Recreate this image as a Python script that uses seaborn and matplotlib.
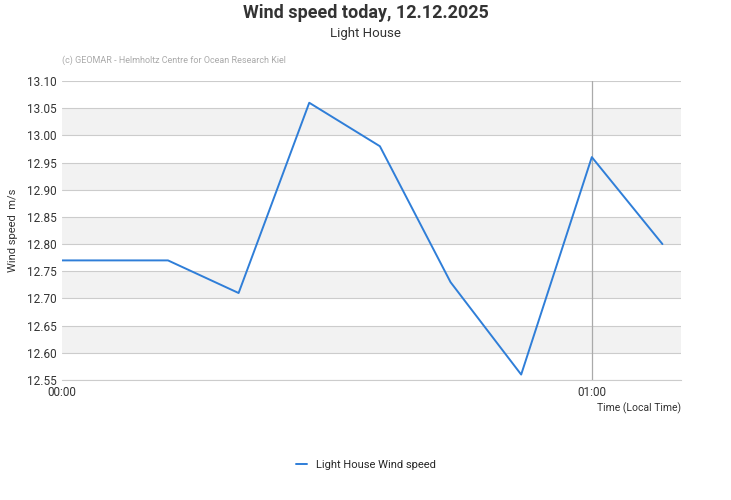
import matplotlib
matplotlib.use('Agg')
import matplotlib.pyplot as plt
import seaborn as sns
import numpy as np

# minutes after 00:00 and wind speed readings (m/s)
minutes = [0, 12, 20, 28, 36, 44, 52, 60, 68]
speed = [12.77, 12.77, 12.71, 13.06, 12.98, 12.73, 12.56, 12.96, 12.80]
tick_pos = [0, 60]
tick_labels = ['00:00', '01:00']

sns.set_style('white')
plt.rcParams['font.family'] = ['Roboto', 'DejaVu Sans']

fig = plt.figure(figsize=(7.31, 5.0), dpi=100)
ax = fig.add_axes([62/731, 1 - 380/500, (681-62)/731, (380-81)/500])

ax.set_ylim(12.55, 13.10)
ax.set_xlim(0, 70.1)
yt = np.round(np.arange(12.55, 13.101, 0.05), 2)
for lo in yt[:-1]:
    if round((lo - 12.55) / 0.05) % 2 == 1:
        ax.axhspan(lo, lo + 0.05, color='#f2f2f2', zorder=0, lw=0)
for y in yt:
    ax.axhline(y, color='#cccccc', lw=0.8, zorder=1)
ax.axvline(60, color='#aaaaaa', lw=0.9, zorder=1)

sns.lineplot(x=minutes, y=speed, ax=ax, color='#2f7ed8', lw=1.4,
             label='Light House Wind speed', zorder=3)

ax.set_yticks(yt)
ax.set_yticklabels([f'{v:.2f}' for v in yt], fontsize=8.5, color='#333333')
ax.set_xticks(tick_pos)
ax.set_xticklabels(tick_labels, fontsize=8.5, color='#333333')
ax.tick_params(axis='both', length=0, pad=4)
for s in ax.spines.values():
    s.set_visible(False)
ax.spines['bottom'].set_visible(True)
ax.spines['bottom'].set_color('#cccccc')

ax.set_ylabel('Wind speed  m/s', fontsize=8, color='#333333', labelpad=6)
ax.set_xlabel('')
fig.text(681/731, 1 - 408/500, 'Time (Local Time)', ha='right', va='center', fontsize=7.5, color='#333333')

fig.text(0.5, 1 - 13/500, 'Wind speed today, 12.12.2025', ha='center', va='center',
         fontsize=13, fontweight='bold', color='#333333')
fig.text(0.5, 1 - 33/500, 'Light House', ha='center', va='center', fontsize=9.5, color='#333333')
fig.text(62/731, 1 - 60/500, '(c) GEOMAR - Helmholtz Centre for Ocean Research Kiel', ha='left',
         va='center', fontsize=6.5, color='#aaaaaa')

ax.legend(loc='center', bbox_to_anchor=(0.5, 1 - 465/500), bbox_transform=fig.transFigure,
          frameon=False, fontsize=8, handlelength=1.0)

fig.savefig('out.png', dpi=100)
